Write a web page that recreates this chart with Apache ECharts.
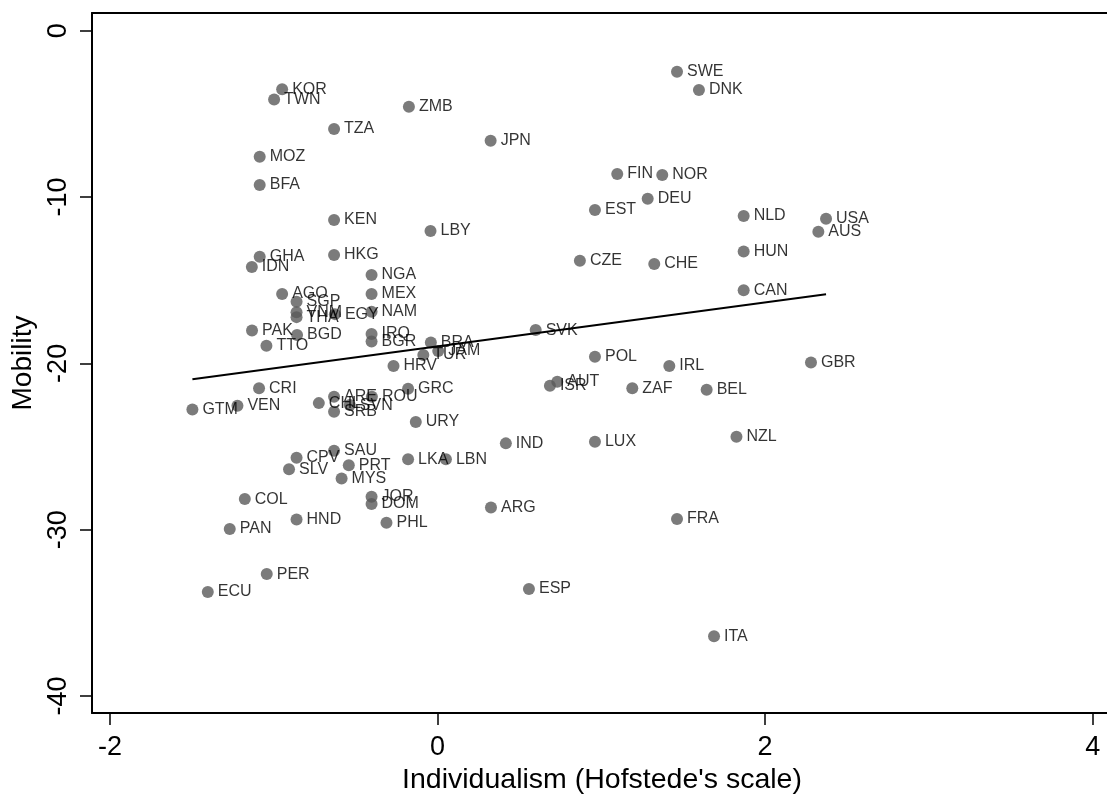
<!DOCTYPE html>
<html>
<head>
<meta charset="utf-8">
<script src="https://cdn.jsdelivr.net/npm/echarts@6/dist/echarts.min.js"></script>
<style>
html,body{margin:0;padding:0;background:#fff;}
#chart{width:1107px;height:796px;}
</style>
</head>
<body>
<div id="chart"></div>
<script>
var countries = ["KOR","TWN","ZMB","TZA","MOZ","BFA","KEN","LBY","GHA","HKG","IDN","JPN",
  "NGA","AGO","SGP","MEX","VNM","THA","EGY","NAM","PAK","TTO","BGD","IRQ","BGR","BRA","TUR","JAM","HRV",
  "CRI","GTM","VEN","GRC","URY","CHL","ARE","SRB","SVN","ROU",
  "SAU","CPV","SLV","PRT","MYS","LKA","LBN","COL","JOR","DOM","HND","PAN","PHL","ARG",
  "PER","ECU","ESP","ITA","FRA","IND","LUX","NZL","SVK","POL","IRL","GBR","ISR","AUT","ZAF","BEL",
  "SWE","DNK","FIN","NOR","DEU","EST","NLD","USA","AUS","HUN","CZE","CHE","CAN"];
var individualism = [-0.949,-0.998,-0.175,-0.632,-1.086,-1.086,-0.632,-0.043,-1.086,-0.632,-1.134,0.324,
  -0.403,-0.949,-0.861,-0.403,-0.861,-0.861,-0.627,-0.403,-1.133,-1.045,-0.858,-0.403,-0.403,-0.041,-0.087,0.004,-0.269,
  -1.090,-1.497,-1.222,-0.180,-0.133,-0.725,-0.632,-0.632,-0.536,-0.401,
  -0.632,-0.861,-0.907,-0.542,-0.586,-0.180,0.051,-1.177,-0.403,-0.403,-0.861,-1.269,-0.312,0.326,
  -1.043,-1.403,0.558,1.688,1.462,0.417,0.961,1.825,0.599,0.961,1.415,2.280,0.686,0.731,1.189,1.643,
  1.462,1.596,1.097,1.372,1.283,0.961,1.869,2.372,2.325,1.869,0.869,1.323,1.869];
var mobility = [-3.52,-4.13,-4.57,-5.91,-7.58,-9.28,-11.38,-12.04,-13.59,-13.49,-14.21,-6.61,
  -14.69,-15.83,-16.30,-15.83,-16.92,-17.22,-17.04,-16.90,-18.02,-18.94,-18.30,-18.24,-18.69,-18.75,-19.50,-19.26,-20.16,
  -21.50,-22.77,-22.55,-21.53,-23.53,-22.39,-22.01,-22.91,-22.51,-22.01,
  -25.26,-25.68,-26.37,-26.12,-26.92,-25.77,-25.77,-28.16,-28.02,-28.46,-29.38,-29.96,-29.58,-28.66,
  -32.67,-33.75,-33.57,-36.40,-29.36,-24.81,-24.71,-24.41,-18.00,-19.60,-20.16,-19.95,-21.35,-21.11,-21.50,-21.58,
  -2.47,-3.57,-8.62,-8.68,-10.10,-10.78,-11.14,-11.30,-12.09,-13.27,-13.83,-14.03,-15.61];
var fitX = [-1.497, 2.372];
var fitY = [-20.96, -15.85];
var xTicks = [-2, 0, 2, 4];
var yTicks = [0, -10, -20, -30, -40];

var points = countries.map(function(c, i){ return {name: c, value: [individualism[i], mobility[i]]}; });
var fitLine = fitX.map(function(x, i){ return [x, fitY[i]]; });

var chart = echarts.init(document.getElementById('chart'), null, {renderer: 'canvas'});
var font = 'Liberation Sans, Arial, Helvetica, sans-serif';
var xMin = -2.110, xMax = 4.118;
chart.setOption({
  animation: false,
  backgroundColor: '#fff',
  grid: {left: 92, top: 13, width: 1020, bottom: 83, show: false, containLabel: false, outerBoundsMode: 'none'},
  xAxis: [{
    type: 'value', min: xMin, max: xMax, position: 'bottom',
    name: "Individualism (Hofstede's scale)", nameLocation: 'middle', nameGap: 48,
    nameTextStyle: {fontFamily: font, fontSize: 28.5, color: '#000'},
    axisLine: {show: true, onZero: false, lineStyle: {color: '#000', width: 2}},
    axisTick: {show: true, length: 12, customValues: xTicks, lineStyle: {color: '#000', width: 1.5}},
    axisLabel: {show: true, customValues: xTicks, margin: 21, fontFamily: font, fontSize: 27, color: '#000'},
    splitLine: {show: false}
  }, {
    type: 'value', min: xMin, max: xMax, position: 'top',
    axisLine: {show: true, onZero: false, lineStyle: {color: '#000', width: 2}},
    axisTick: {show: false}, axisLabel: {show: false}, splitLine: {show: false}
  }],
  yAxis: {
    type: 'value', min: -41.02, max: 1.064,
    name: 'Mobility', nameLocation: 'middle', nameGap: 45,
    nameTextStyle: {fontFamily: font, fontSize: 28, color: '#000'},
    axisLine: {show: true, onZero: false, lineStyle: {color: '#000', width: 2}},
    axisTick: {show: true, length: 12, customValues: yTicks, lineStyle: {color: '#000', width: 1.5}},
    axisLabel: {show: true, customValues: yTicks, rotate: 90, margin: 20, fontFamily: font, fontSize: 27, color: '#000'},
    splitLine: {show: false}
  },
  series: [
    {
      type: 'scatter', data: points, symbol: 'circle', symbolSize: 12,
      itemStyle: {color: '#5a5a5a'},
      label: {show: true, position: 'right', distance: 4, formatter: '{b}', fontFamily: font, fontSize: 16, color: '#000'},
      emphasis: {disabled: true}, z: 2
    },
    {
      type: 'line', data: fitLine, showSymbol: false, symbol: 'none',
      lineStyle: {color: '#000', width: 2}, z: 3, emphasis: {disabled: true}
    }
  ]
});
</script>
</body>
</html>
